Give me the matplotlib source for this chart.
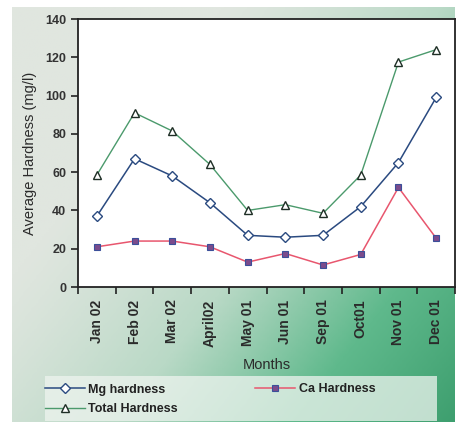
import numpy as np
import matplotlib
matplotlib.use("Agg")
import matplotlib.pyplot as plt
from matplotlib.colors import LinearSegmentedColormap
from matplotlib.patches import Rectangle

plt.rcParams["font.family"] = ["Liberation Sans", "DejaVu Sans"]

# monthly averages (mg/l)
months = ["Jan 02", "Feb 02", "Mar 02", "April02", "May 01",
          "Jun 01", "Sep 01", "Oct01", "Nov 01", "Dec 01"]
mg_hardness = [37, 67, 58, 44, 27, 26, 27, 42, 65, 99]
ca_hardness = [21, 24, 24, 21, 13, 17.5, 11.5, 17, 52, 25.5]
total_hardness = [58.5, 91, 81.5, 64, 40, 43, 38.5, 58.5, 117.5, 124]

fig = plt.figure(figsize=(4.58, 4.29), dpi=100)
fig.patch.set_facecolor("white")

# greenish gradient panel behind everything
bg = fig.add_axes([12 / 458, 7 / 429, 443 / 458, 415 / 429], zorder=0)
yy, xx = np.mgrid[0:1:200j, 0:1:200j]
t = np.clip(0.75 * xx + 0.55 * yy - 0.35, 0, 1) ** 1.2
cmap = LinearSegmentedColormap.from_list("panel", ["#e0e6df", "#b9d9c6", "#5fb98c", "#3e9f6f"])
bg.imshow(t, cmap=cmap, aspect="auto", extent=[0, 1, 0, 1], origin="upper")
bg.axis("off")

# pale box under the legend
fig.patches.append(Rectangle((45 / 458, 8 / 429), 392 / 458, 45 / 429, transform=fig.transFigure,
                             facecolor="#eef4ef", alpha=0.75, edgecolor="none", zorder=0.5))

ax = fig.add_axes([78 / 458, 1 - 287 / 429, 377 / 458, 268 / 429], zorder=1)
ax.set_facecolor("white")
x = np.arange(len(months))

l_mg, = ax.plot(x, mg_hardness, color="#2a4a80", lw=1.1, marker="D", ms=5,
                mfc="white", mec="#2a4a80", mew=1.0, label="Mg hardness")
l_ca, = ax.plot(x, ca_hardness, color="#e8566e", lw=1.1, marker="s", ms=5,
                mfc="#7b4b8c", mec="#3b4f9a", mew=0.8, label="Ca Hardness")
l_tot, = ax.plot(x, total_hardness, color="#4b9a6c", lw=1.0, marker="^", ms=6,
                 mfc="white", mec="#1e2e25", mew=1.0, label="Total Hardness")

ax.set_ylim(0, 140)
ax.set_yticks(range(0, 141, 20))
ax.set_xlim(-0.5, len(months) - 0.5)
ax.set_xticks(np.arange(-0.5, len(months), 1.0))
ax.set_xticklabels([])
ax.set_xticks(x, minor=True)
ax.set_xticklabels(months, minor=True, rotation=90, fontsize=10, fontweight="bold", color="#2b2b2b")
ax.tick_params(axis="x", which="minor", length=0, pad=9)
ax.tick_params(axis="x", which="major", length=5, width=1.2, color="#222222")
ax.tick_params(axis="y", length=5, width=1.2, color="#222222", labelsize=9, labelcolor="#333333")
for lbl in ax.get_yticklabels():
    lbl.set_fontweight("bold")
for sp in ax.spines.values():
    sp.set_color("#222222")
    sp.set_linewidth(1.3)

ax.set_ylabel("Average Hardness (mg/l)", fontsize=10.5, color="#2b2b2b", labelpad=6)
ax.set_xlabel("Months", fontsize=10.5, color="#2b2b2b", labelpad=8)

# handles ordered so Total sits under Mg in the first column
leg = fig.legend([l_mg, l_tot, l_ca], ["Mg hardness", "Total Hardness", "Ca Hardness"],
                 ncol=2, loc="upper left", bbox_to_anchor=(42 / 458, 1 - 381 / 429),
                 frameon=False, fontsize=9, handlelength=3.2, handletextpad=0.3,
                 borderaxespad=0, borderpad=0.2, labelspacing=0.6, columnspacing=6.2)
for txt in leg.get_texts():
    txt.set_fontweight("bold")
    txt.set_color("#222222")

fig.savefig("out.png", dpi=100, facecolor=fig.get_facecolor())
